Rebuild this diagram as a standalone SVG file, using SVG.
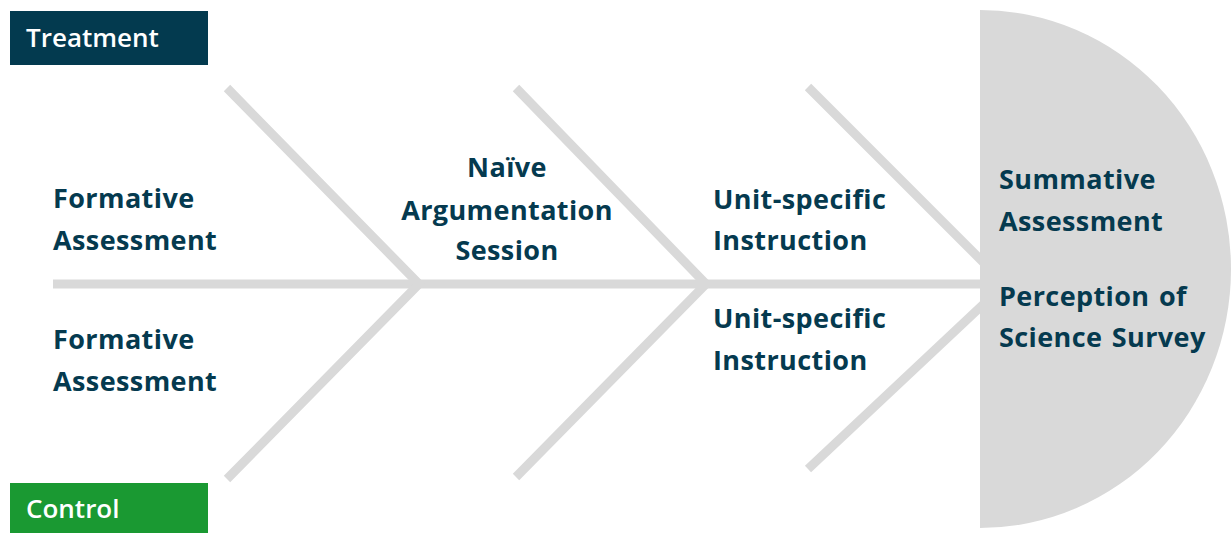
<svg xmlns="http://www.w3.org/2000/svg" width="1231" height="533" viewBox="0 0 1231 533">
<style>
.bone{stroke:#d9d9d9;stroke-width:9;fill:none;stroke-linecap:butt;stroke-linejoin:miter}
.lbl{font-family:"Open Sans","Liberation Sans",sans-serif;font-weight:700;font-size:27px;fill:#053a4f;letter-spacing:0.4px;word-spacing:2px}
.hdr{font-family:"Open Sans","Liberation Sans",sans-serif;font-weight:600;font-size:26px;fill:#ffffff}
.mid{text-anchor:middle}
</style>
<rect width="1231" height="533" fill="#ffffff"/>
<g id="connectors">
<line class="bone" x1="53" y1="284" x2="990" y2="284"/>
<polyline class="bone" points="227,88 419,284 227,479"/>
<polyline class="bone" points="516,88 706,284 516,477"/>
<polyline class="bone" points="808,87 1005,284 808,469"/>
</g>
<g id="head">
<path d="M980,10 A251,259 0 0 1 980,528 Z" fill="#d9d9d9"/>
<text class="lbl" x="999" y="189">Summative</text>
<text class="lbl" x="999" y="231">Assessment</text>
<text class="lbl" x="999" y="306">Perception of</text>
<text class="lbl" x="999" y="347">Science Survey</text>
</g>
<g id="treatment">
<rect x="10" y="11" width="198" height="54" fill="#033a4f"/>
<text class="hdr" x="26" y="47">Treatment</text>
</g>
<g id="control">
<rect x="10" y="483" width="198" height="50" fill="#1a9932"/>
<text class="hdr" x="26" y="518">Control</text>
</g>
<g id="formative-treatment">
<text class="lbl" x="53" y="208">Formative</text>
<text class="lbl" x="53" y="250">Assessment</text>
</g>
<g id="formative-control">
<text class="lbl" x="53" y="349">Formative</text>
<text class="lbl" x="53" y="391">Assessment</text>
</g>
<g id="naive-argumentation">
<text class="lbl mid" x="507" y="177">Naïve</text>
<text class="lbl mid" x="507" y="220">Argumentation</text>
<text class="lbl mid" x="507" y="260">Session</text>
</g>
<g id="unit-treatment">
<text class="lbl" x="713" y="209">Unit-specific</text>
<text class="lbl" x="713" y="250">Instruction</text>
</g>
<g id="unit-control">
<text class="lbl" x="713" y="328">Unit-specific</text>
<text class="lbl" x="713" y="370">Instruction</text>
</g>
</svg>
